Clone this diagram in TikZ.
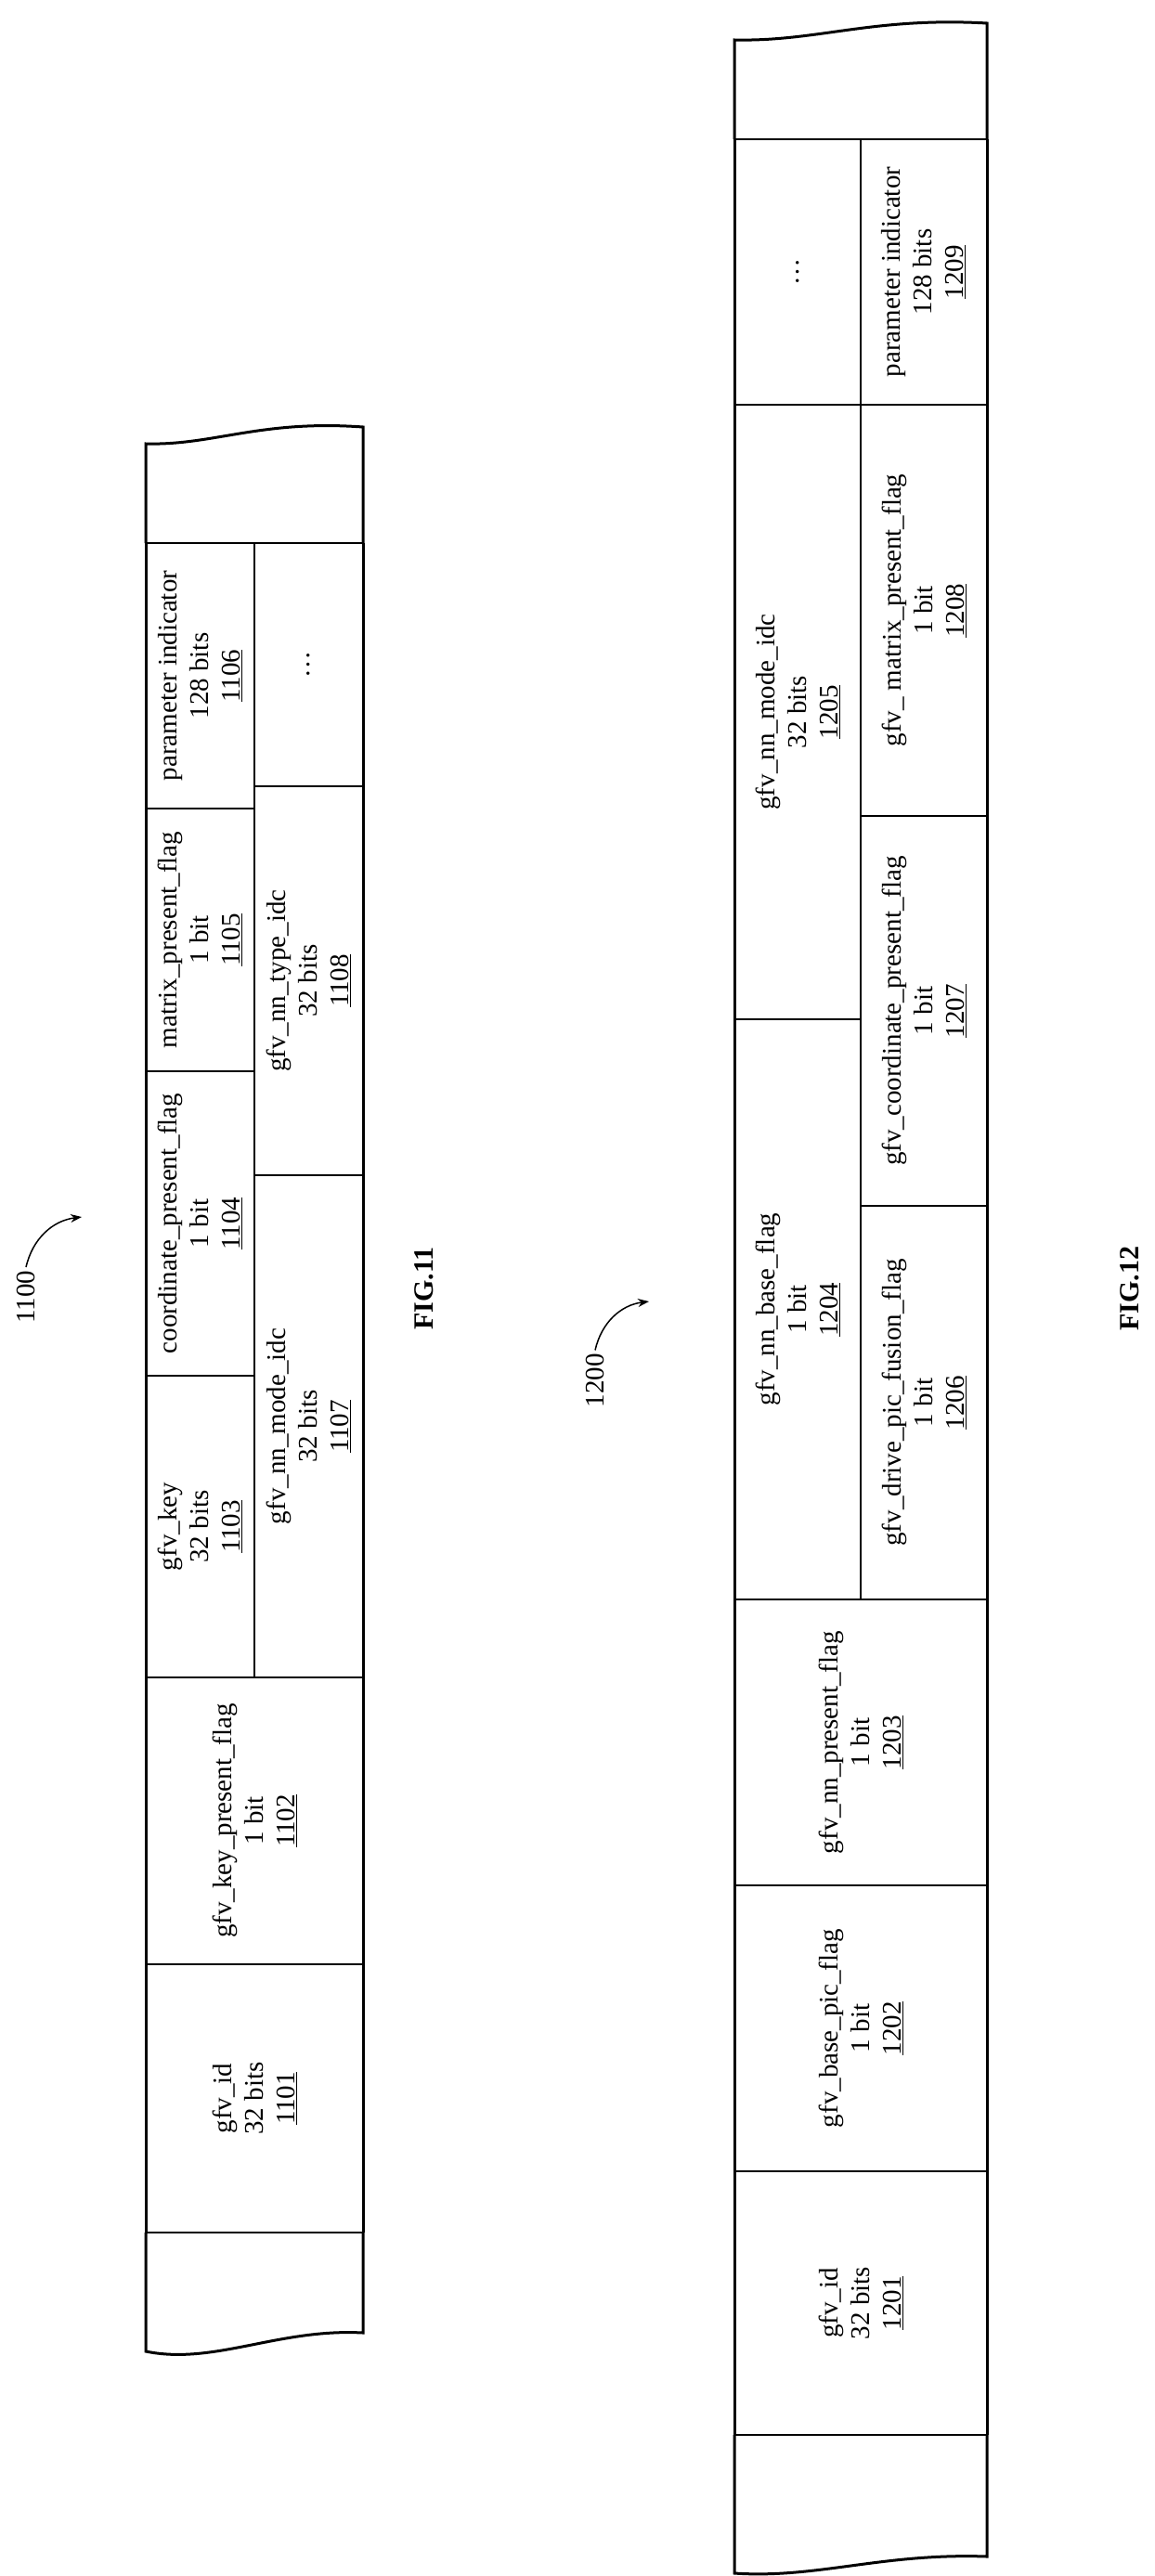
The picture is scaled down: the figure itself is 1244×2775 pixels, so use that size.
\documentclass[tikz,border=0pt]{standalone}
\usepackage{fontspec}
\setmainfont{Liberation Serif}
\usetikzlibrary{positioning,arrows.meta}

\tikzset{
  field/.style={rotate=90,align=center,font=\fontsize{29}{34}\selectfont},
  figlabel/.style={rotate=90,font=\fontsize{30}{34}\selectfont\bfseries},
  reflabel/.style={rotate=90,font=\fontsize{29}{34}\selectfont},
  outer/.style={line width=3pt},
  inner/.style={line width=1.6pt},
}
% one cell of the bit stream: corners, name, text
\newcommand{\fieldcell}[6]{%
  \draw[inner] (#1,#2) rectangle (#3,#4);
  \node[field] (#5) at ({(#1+#3)/2},{(#2+#4)/2}) {#6};}

\begin{document}
\begin{tikzpicture}[x=1pt,y=-1pt]
\useasboundingbox (0,0) rectangle (1244,2775);

% FIG. 11
\fieldcell{157}{2116}{391}{2405}{f1101}{gfv\_id\\32 bits\\\underline{1101}}
\fieldcell{157}{1807}{391}{2116}{f1102}{gfv\_key\_present\_flag\\1 bit\\\underline{1102}}
\fieldcell{157}{1482}{274}{1807}{f1103}{gfv\_key\\32 bits\\\underline{1103}}
\fieldcell{157}{1154}{274}{1482}{f1104}{coordinate\_present\_flag\\1 bit\\\underline{1104}}
\fieldcell{157}{871}{274}{1154}{f1105}{matrix\_present\_flag\\1 bit\\\underline{1105}}
\fieldcell{157}{585}{274}{871}{f1106}{parameter indicator\\128 bits\\\underline{1106}}
\fieldcell{274}{1266}{391}{1807}{f1107}{gfv\_nn\_mode\_idc\\32 bits\\\underline{1107}}
\fieldcell{274}{847}{391}{1266}{f1108}{gfv\_nn\_type\_idc\\32 bits\\\underline{1108}}
\fieldcell{274}{585}{391}{847}{f11dots}{\dots}
% cut ends
\draw[outer] (157,585) -- (157,478) .. controls (230,480) and (280,452) .. (391,460) -- (391,585);
\draw[outer] (157,2405) -- (157,2533) .. controls (230,2548) and (300,2508) .. (391,2513) -- (391,2405);
\draw[outer] (157,585) -- (157,2405) (391,585) -- (391,2405);

\node[reflabel] (l1100) at (28,1397) {1100};
\coordinate (t1100) at (88,1311);
\draw[-{Stealth[length=12pt]},line width=1.5pt] (l1100.east) to[bend left=35] (t1100);
\node[figlabel] (fig11) at (457,1388) {FIG.11};

% FIG. 12
\fieldcell{791}{2339}{1063}{2623}{f1201}{gfv\_id\\32 bits\\\underline{1201}}
\fieldcell{791}{2031}{1063}{2339}{f1202}{gfv\_base\_pic\_flag\\1 bit\\\underline{1202}}
\fieldcell{791}{1723}{1063}{2031}{f1203}{gfv\_nn\_present\_flag\\1 bit\\\underline{1203}}
\fieldcell{791}{1098}{927}{1723}{f1204}{gfv\_nn\_base\_flag\\1 bit\\\underline{1204}}
\fieldcell{791}{436}{927}{1098}{f1205}{gfv\_nn\_mode\_idc\\32 bits\\\underline{1205}}
\fieldcell{791}{150}{927}{436}{f12dots}{\dots}
\fieldcell{927}{1299}{1063}{1723}{f1206}{gfv\_drive\_pic\_fusion\_flag\\1 bit\\\underline{1206}}
\fieldcell{927}{879}{1063}{1299}{f1207}{gfv\_coordinate\_present\_flag\\1 bit\\\underline{1207}}
\fieldcell{927}{436}{1063}{879}{f1208}{gfv\_ matrix\_present\_flag\\1 bit\\\underline{1208}}
\fieldcell{927}{150}{1063}{436}{f1209}{parameter indicator\\128 bits\\\underline{1209}}
% cut ends
\draw[outer] (791,150) -- (791,43) .. controls (880,45) and (940,18) .. (1063,25) -- (1063,150);
\draw[outer] (791,2623) -- (791,2772) .. controls (880,2778) and (950,2750) .. (1063,2754) -- (1063,2623);
\draw[outer] (791,150) -- (791,2623) (1063,150) -- (1063,2623);

\node[reflabel] (l1200) at (641,1487) {1200};
\coordinate (t1200) at (699,1402);
\draw[-{Stealth[length=12pt]},line width=1.5pt] (l1200.east) to[bend left=35] (t1200);
\node[figlabel] (fig12) at (1217,1388) {FIG.12};
\end{tikzpicture}
\end{document}
